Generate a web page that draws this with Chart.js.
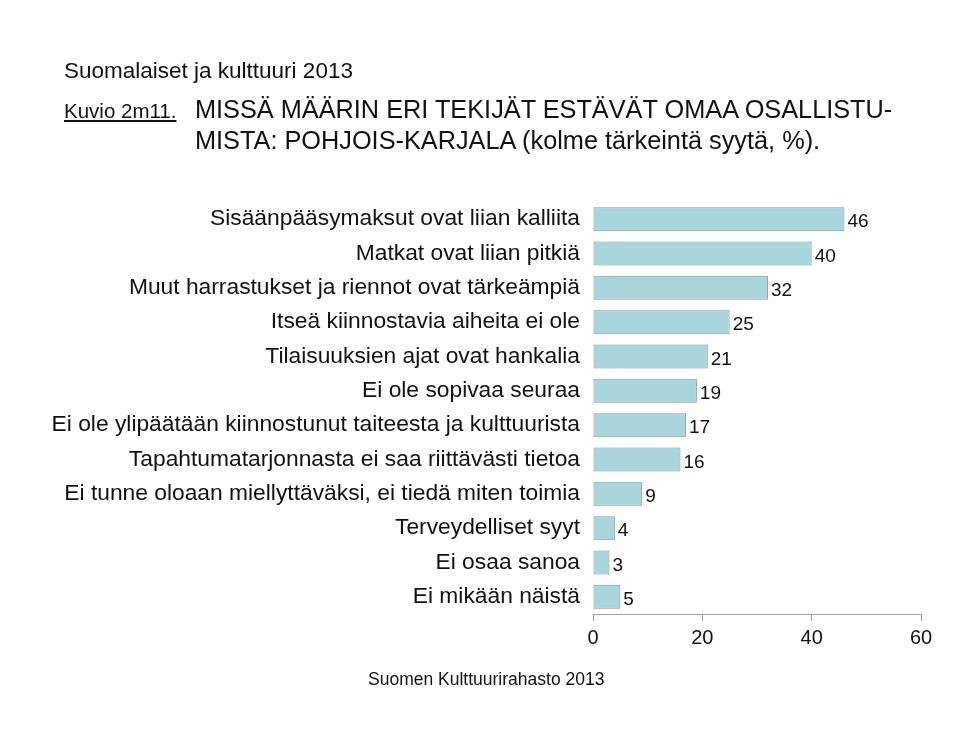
<!DOCTYPE html>
<html>
<head>
<meta charset="utf-8">
<script src="https://cdn.jsdelivr.net/npm/chart.js@4"></script>
<style>
  body { margin: 0; background: #fff; font-family: "Liberation Sans", Arial, sans-serif; color: #111; }
  #wrap { position: relative; width: 960px; height: 730px; overflow: hidden; }
  canvas { position: absolute; left: 0; top: 0; }
  .txt { position: absolute; white-space: nowrap; line-height: normal; }
  #sup { left: 64px; top: 58px; font-size: 22.5px; }
  #kuvio { left: 64px; top: 99px; font-size: 20.5px; text-decoration: underline; }
  #title { left: 195px; top: 94px; font-size: 25.3px; line-height: 31px; }
  #source { left: 368px; top: 669px; font-size: 17.5px; }
</style>
</head>
<body>
<div id="wrap">
  <canvas id="barChart" width="960" height="730"></canvas>
  <div class="txt" id="sup">Suomalaiset ja kulttuuri 2013</div>
  <div class="txt" id="kuvio">Kuvio 2m11.</div>
  <div class="txt" id="title">MISSÄ MÄÄRIN ERI TEKIJÄT ESTÄVÄT OMAA OSALLISTU-<br>MISTA: POHJOIS-KARJALA (kolme tärkeintä syytä, %).</div>
  <div class="txt" id="source">Suomen Kulttuurirahasto 2013</div>
</div>
<script>
const reasons = [
  "Sisäänpääsymaksut ovat liian kalliita",
  "Matkat ovat liian pitkiä",
  "Muut harrastukset ja riennot ovat tärkeämpiä",
  "Itseä kiinnostavia aiheita ei ole",
  "Tilaisuuksien ajat ovat hankalia",
  "Ei ole sopivaa seuraa",
  "Ei ole ylipäätään kiinnostunut taiteesta ja kulttuurista",
  "Tapahtumatarjonnasta ei saa riittävästi tietoa",
  "Ei tunne oloaan miellyttäväksi, ei tiedä miten toimia",
  "Terveydelliset syyt",
  "Ei osaa sanoa",
  "Ei mikään näistä"
];
const shares = [46, 40, 32, 25, 21, 19, 17, 16, 9, 4, 3, 5];
const xTicks = [0, 20, 40, 60];

// writes the value just right of each bar
const valueLabels = {
  id: "valueLabels",
  afterDatasetsDraw(chart) {
    const ctx = chart.ctx;
    const meta = chart.getDatasetMeta(0);
    ctx.save();
    ctx.font = "19px 'Liberation Sans', Arial, sans-serif";
    ctx.fillStyle = "#111";
    ctx.textBaseline = "middle";
    ctx.textAlign = "left";
    meta.data.forEach((bar, i) => {
      ctx.fillText(String(shares[i]), bar.x + 3, bar.y + 3);
    });
    ctx.restore();
  }
};

const barChart = document.getElementById("barChart");
new Chart(barChart, {
  type: "bar",
  data: {
    labels: reasons,
    datasets: [
      {
        data: shares,
        backgroundColor: "#a9d5dc",
        borderColor: "#80969b",
        borderWidth: 1,
        borderSkipped: false,
        categoryPercentage: 1,
        barPercentage: 0.7
      }
    ]
  },
  options: {
    indexAxis: "y",
    responsive: false,
    animation: false,
    layout: {
      padding: { left: 0, top: 202, right: 39, bottom: 76 }
    },
    scales: {
      x: {
        min: 0,
        max: 60,
        afterBuildTicks: (scale) => {
          scale.ticks = xTicks.map((v) => ({ value: v }));
        },
        afterFit: (scale) => { scale.height = 40; },
        border: { display: true, color: "#a0a0a0" },
        grid: { drawOnChartArea: false, drawTicks: true, tickLength: 7, color: "#a0a0a0" },
        ticks: {
          color: "#111",
          padding: 5,
          maxRotation: 0,
          font: { family: "'Liberation Sans', Arial, sans-serif", size: 20 }
        }
      },
      y: {
        afterFit: (scale) => { scale.width = 593; },
        border: { display: false },
        grid: { display: false, drawTicks: false },
        ticks: {
          color: "#111",
          padding: 13,
          autoSkip: false,
          font: { family: "'Liberation Sans', Arial, sans-serif", size: 22.8 }
        }
      }
    },
    plugins: {
      legend: { display: false },
      tooltip: { enabled: false },
      title: { display: false }
    }
  },
  plugins: [valueLabels]
});
</script>
</body>
</html>
